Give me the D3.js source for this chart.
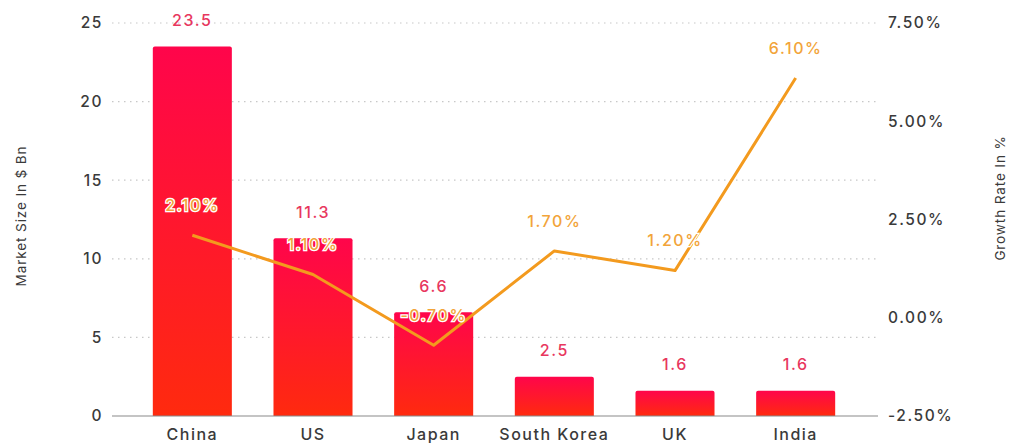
<!DOCTYPE html>
<html>
<head>
<meta charset="utf-8">
<script src="https://cdn.jsdelivr.net/npm/d3@7"></script>
<style>
  body { margin: 0; background: #fff; }
  svg { display: block; font-family: Inter, "Noto Sans", sans-serif; }
</style>
</head>
<body>
<svg id="chart" width="1014" height="443"></svg>
<script>
const countries = ['China', 'US', 'Japan', 'South Korea', 'UK', 'India'];
const marketSize = [23.5, 11.3, 6.6, 2.5, 1.6, 1.6];
const growthRate = [2.10, 1.10, -0.70, 1.70, 1.20, 6.10];
const leftTicks = [0, 5, 10, 15, 20, 25];
const rightTicks = [-2.5, 0, 2.5, 5, 7.5];

const svg = d3.select('#chart');
const plotTop = 23, plotBottom = 416, axisLeft = 112, axisRight = 878;

const x = d3.scaleBand().domain(countries).range([132, 856]).paddingInner(0.345).paddingOuter(0.1725);
const yL = d3.scaleLinear().domain([0, 25]).range([plotBottom, plotTop]);
const yR = d3.scaleLinear().domain([-2.5, 7.5]).range([plotBottom, plotTop]);

// plain hyphen for negatives, like the original
const pct = v => d3.format('.2f')(v).replace('\u2212', '-') + '%';

// gradient for bars
const defs = svg.append('defs');
const grad = defs.append('linearGradient').attr('id', 'barGrad')
  .attr('x1', 0).attr('y1', 0).attr('x2', 0).attr('y2', 1);
grad.append('stop').attr('offset', '0%').attr('stop-color', '#ff054b');
grad.append('stop').attr('offset', '100%').attr('stop-color', '#ff2a0e');

// dotted gridlines from the left axis
svg.append('g').selectAll('line')
  .data(leftTicks.filter(d => d > 0))
  .join('line')
  .attr('x1', axisLeft).attr('x2', axisRight)
  .attr('y1', d => yL(d)).attr('y2', d => yL(d))
  .attr('stroke', '#c8c8c8').attr('stroke-width', 1.2)
  .attr('stroke-dasharray', '1.5 4.5');

// left tick labels
svg.append('g').selectAll('text')
  .data(leftTicks)
  .join('text')
  .attr('x', 103).attr('y', d => yL(d))
  .attr('dy', '0.35em').attr('text-anchor', 'end')
  .attr('font-size', 15.5).attr('font-weight', 500).attr('letter-spacing', 1.6).attr('fill', '#3a3a3a')
  .text(d => d);

// right tick labels
svg.append('g').selectAll('text')
  .data(rightTicks)
  .join('text')
  .attr('x', 888).attr('y', d => yR(d))
  .attr('dy', '0.35em').attr('text-anchor', 'start')
  .attr('font-size', 15.5).attr('font-weight', 500).attr('letter-spacing', 1.6).attr('fill', '#3a3a3a')
  .text(d => pct(d));

// bars
const data = countries.map((c, i) => ({ c, v: marketSize[i], g: growthRate[i] }));
svg.append('g').selectAll('path')
  .data(data)
  .join('path')
  .attr('fill', 'url(#barGrad)')
  .attr('d', d => {
    const x0 = x(d.c), w = x.bandwidth(), y0 = yL(d.v), r = 2;
    return `M${x0},${plotBottom}V${y0 + r}Q${x0},${y0} ${x0 + r},${y0}H${x0 + w - r}Q${x0 + w},${y0} ${x0 + w},${y0 + r}V${plotBottom}Z`;
  });

// baseline
svg.append('line')
  .attr('x1', axisLeft).attr('x2', axisRight)
  .attr('y1', plotBottom).attr('y2', plotBottom)
  .attr('stroke', '#8a8a8a').attr('stroke-width', 1.2);

// bar value labels
svg.append('g').selectAll('text')
  .data(data)
  .join('text')
  .attr('x', d => x(d.c) + x.bandwidth() / 2)
  .attr('y', d => yL(d.v) - 26)
  .attr('dy', '0.35em').attr('text-anchor', 'middle')
  .attr('font-size', 16).attr('font-weight', 500).attr('letter-spacing', 1.6).attr('fill', '#e8375e')
  .text(d => d.v);

// growth line
const line = d3.line()
  .x(d => x(d.c) + x.bandwidth() / 2)
  .y(d => yR(d.g));
svg.append('path')
  .datum(data)
  .attr('fill', 'none')
  .attr('stroke', '#f39a1e').attr('stroke-width', 3)
  .attr('stroke-linejoin', 'round')
  .attr('d', line);

// growth labels
svg.append('g').selectAll('text')
  .data(data)
  .join('text')
  .attr('x', d => x(d.c) + x.bandwidth() / 2)
  .attr('y', d => yR(d.g) - 30)
  .attr('dy', '0.35em').attr('text-anchor', 'middle')
  .attr('font-size', 16).attr('font-weight', 500).attr('letter-spacing', 1.6)
  .attr('fill', '#f2a43a')
  .attr('stroke', '#fff').attr('stroke-width', 2.5)
  .attr('paint-order', 'stroke')
  .text(d => pct(d.g));

// category labels
svg.append('g').selectAll('text')
  .data(countries)
  .join('text')
  .attr('x', d => x(d) + x.bandwidth() / 2)
  .attr('y', 434)
  .attr('dy', '0.35em').attr('text-anchor', 'middle')
  .attr('font-size', 16).attr('font-weight', 500).attr('letter-spacing', 1.5).attr('fill', '#3a3a3a')
  .text(d => d);

// axis titles
svg.append('text')
  .attr('transform', 'translate(21,216) rotate(-90)')
  .attr('dy', '0.35em').attr('text-anchor', 'middle')
  .attr('font-size', 13.5).attr('letter-spacing', 0.9).attr('fill', '#3a3a3a')
  .text('Market Size In $ Bn');

svg.append('text')
  .attr('transform', 'translate(1000,198) rotate(-90)')
  .attr('dy', '0.35em').attr('text-anchor', 'middle')
  .attr('font-size', 13.5).attr('letter-spacing', 0.9).attr('fill', '#3a3a3a')
  .text('Growth Rate In %');
</script>
</body>
</html>
